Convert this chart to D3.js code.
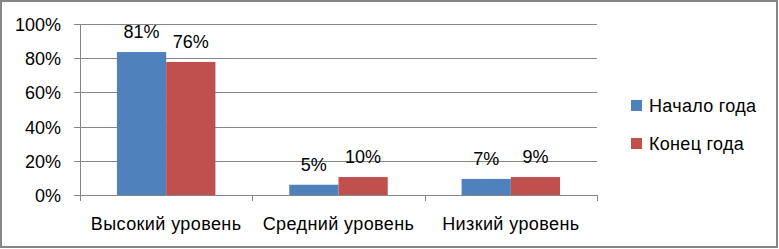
<!DOCTYPE html>
<html>
<head>
<meta charset="utf-8">
<script src="https://cdn.jsdelivr.net/npm/d3@7"></script>
<style>
	body { margin: 0; background: #fff; }
	svg { display: block; font-family: "Liberation Sans", Arial, sans-serif; }
</style>
</head>
<body>
<div class="chart"></div>
<script>
const categories = ['Высокий уровень', 'Средний уровень', 'Низкий уровень'];
const seriesNames = ['Начало года', 'Конец года'];
const startValues = [0.836, 0.06, 0.094];
const endValues = [0.778, 0.105, 0.105];
const startLabels = ['81%', '5%', '7%'];
const endLabels = ['76%', '10%', '9%'];
const yTicks = [0, 0.2, 0.4, 0.6, 0.8, 1];
const colors = ['#4F81BD', '#C0504D'];

barchart();

function barchart() {
	const width = 779;
	const height = 249;
	const margin = { left: 80, right: 182, top: 24, bottom: 54 };

	const svg = d3.select('.chart')
		.append('svg')
		.attr('width', width)
		.attr('height', height);

	// outer frame
	svg.append('rect')
		.attr('x', 1).attr('y', 1)
		.attr('width', 776).attr('height', 246)
		.attr('fill', 'none')
		.attr('stroke', '#868686')
		.attr('stroke-width', 2);

	const x = d3.scaleBand()
		.domain(categories)
		.range([margin.left, width - margin.right]);
	const xs = d3.scaleBand()
		.domain(seriesNames)
		.range([0, x.bandwidth()])
		.paddingOuter(0.75);
	const y = d3.scaleLinear()
		.domain([0, 1])
		.range([height - margin.bottom, margin.top]);

	// gridlines
	svg.append('g')
		.selectAll('line')
		.data(yTicks)
		.enter()
		.append('line')
		.attr('x1', margin.left - 6)
		.attr('x2', width - margin.right)
		.attr('y1', d => Math.round(y(d)) + 0.5)
		.attr('y2', d => Math.round(y(d)) + 0.5)
		.attr('stroke', '#868686');

	svg.append('g')
		.selectAll('text')
		.data(yTicks)
		.enter()
		.append('text')
		.attr('x', 61)
		.attr('y', d => y(d) + 7)
		.attr('text-anchor', 'end')
		.style('font-size', '18px')
		.text(d => d3.format('.0%')(d));

	const series = [startValues, endValues];
	const labels = [startLabels, endLabels];
	series.forEach((vals, si) => {
		svg.append('g')
			.selectAll('rect')
			.data(vals)
			.enter()
			.append('rect')
			.attr('x', (d, i) => x(categories[i]) + xs(seriesNames[si]))
			.attr('y', d => y(d))
			.attr('width', xs.bandwidth())
			.attr('height', d => y(0) - y(d))
			.attr('fill', colors[si]);
		svg.append('g')
			.selectAll('text')
			.data(vals)
			.enter()
			.append('text')
			.attr('x', (d, i) => x(categories[i]) + xs(seriesNames[si]) + xs.bandwidth() / 2)
			.attr('y', d => y(d) - 14)
			.attr('text-anchor', 'middle')
			.style('font-size', '18px')
			.text((d, i) => labels[si][i]);
	});

	// axes lines
	const x0 = margin.left + 0.5;
	svg.append('line')
		.attr('x1', x0).attr('x2', x0)
		.attr('y1', y(1)).attr('y2', y(0) + 6)
		.attr('stroke', '#868686');
	svg.append('g')
		.selectAll('line')
		.data(categories.slice(1).concat(['end']))
		.enter()
		.append('line')
		.attr('x1', (d, i) => Math.round(x(categories[0]) + x.bandwidth() * (i + 1)) + 0.5)
		.attr('x2', (d, i) => Math.round(x(categories[0]) + x.bandwidth() * (i + 1)) + 0.5)
		.attr('y1', y(0))
		.attr('y2', y(0) + 6)
		.attr('stroke', '#868686');

	svg.append('g')
		.selectAll('text')
		.data(categories)
		.enter()
		.append('text')
		.attr('x', d => x(d) + x.bandwidth() / 2)
		.attr('y', 230)
		.attr('text-anchor', 'middle')
		.style('font-size', '18px')
		.style('letter-spacing', '0.4px')
		.text(d => d);

	// legend
	const legend = svg.append('g')
		.selectAll('g')
		.data(seriesNames)
		.enter()
		.append('g')
		.attr('transform', (d, i) => `translate(631, ${100 + i * 38})`);
	legend.append('rect')
		.attr('width', 11)
		.attr('height', 11)
		.attr('fill', (d, i) => colors[i]);
	legend.append('text')
		.attr('x', 18)
		.attr('y', 12)
		.style('font-size', '18px')
		.style('letter-spacing', '0.3px')
		.text(d => d);
}
</script>
</body>
</html>
